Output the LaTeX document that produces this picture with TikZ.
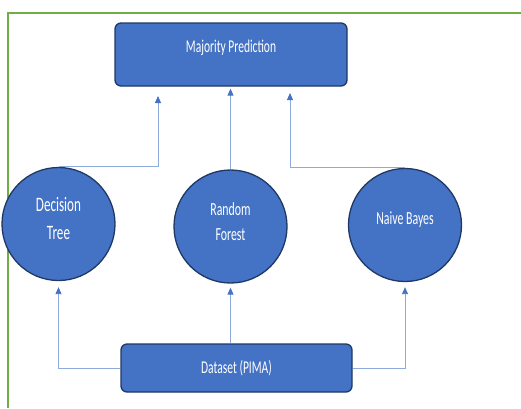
\documentclass[tikz,border=0pt]{standalone}
\usepackage{fontspec}
\setmainfont{Carlito}[FakeStretch=0.64]
\usetikzlibrary{arrows.meta}
\usetikzlibrary{positioning}
\definecolor{boxblue}{HTML}{4472C4}
\definecolor{rimblue}{HTML}{1F3864}
\definecolor{linkblue}{HTML}{8FAADC}
\definecolor{framegreen}{HTML}{70AD47}
\begin{document}
\begin{tikzpicture}[x=1pt,y=-1pt,
  block/.style={draw=rimblue,fill=boxblue,line width=1.3pt,rounded corners=6pt,text=white,font=\fontsize{18}{21}\selectfont},
  model/.style={circle,draw=rimblue,fill=boxblue,line width=1.3pt,minimum size=113pt,inner sep=0pt},
  caption/.style={text=white,align=center,yshift=5pt},
  link/.style={draw=linkblue,line width=0.9pt,-{Triangle[width=6pt,length=7pt,color=boxblue]}}]
\useasboundingbox (0,0) rectangle (521,408);
\draw[framegreen,line width=1.4pt] (8,408) -- (8,13) -- (521,13);

\node[block,minimum width=232pt,minimum height=63pt] (maj) at (231,54.5) {};
\node[font=\fontsize{18}{21}\selectfont,text=white] (majtxt) at ([yshift=6.5pt]maj.center) {Majority Prediction};
\node[model,label={[caption,font=\fontsize{20.5}{28}\selectfont]center:Decision\\Tree}] (dt) at (58.5,224) {};
\node[model,label={[caption,font=\fontsize{18.5}{25}\selectfont]center:Random\\Forest}] (rf) at (230.5,226.5) {};
\node[model,label={[caption,font=\fontsize{18.5}{25}\selectfont]center:Naive Bayes}] (nb) at (405,225) {};
\node[block,minimum width=231pt,minimum height=48pt] (ds) at (236.5,368) {Dataset (PIMA)};

\coordinate (tipL) at (158,96);
\coordinate (tipR) at (290,93);
\draw[link] (dt.north) -| (tipL);
\draw[link,shorten >=2pt] (rf.north) -- (rf.north |- maj.south);
\draw[link] (nb.north) -| (tipR);
\draw[link,shorten >=6pt] (ds.west) -| (dt.south);
\draw[link,shorten >=4pt] (ds.north -| rf.south) -- (rf.south);
\draw[link,shorten >=5pt] (ds.east) -| (nb.south);
\end{tikzpicture}
\end{document}
